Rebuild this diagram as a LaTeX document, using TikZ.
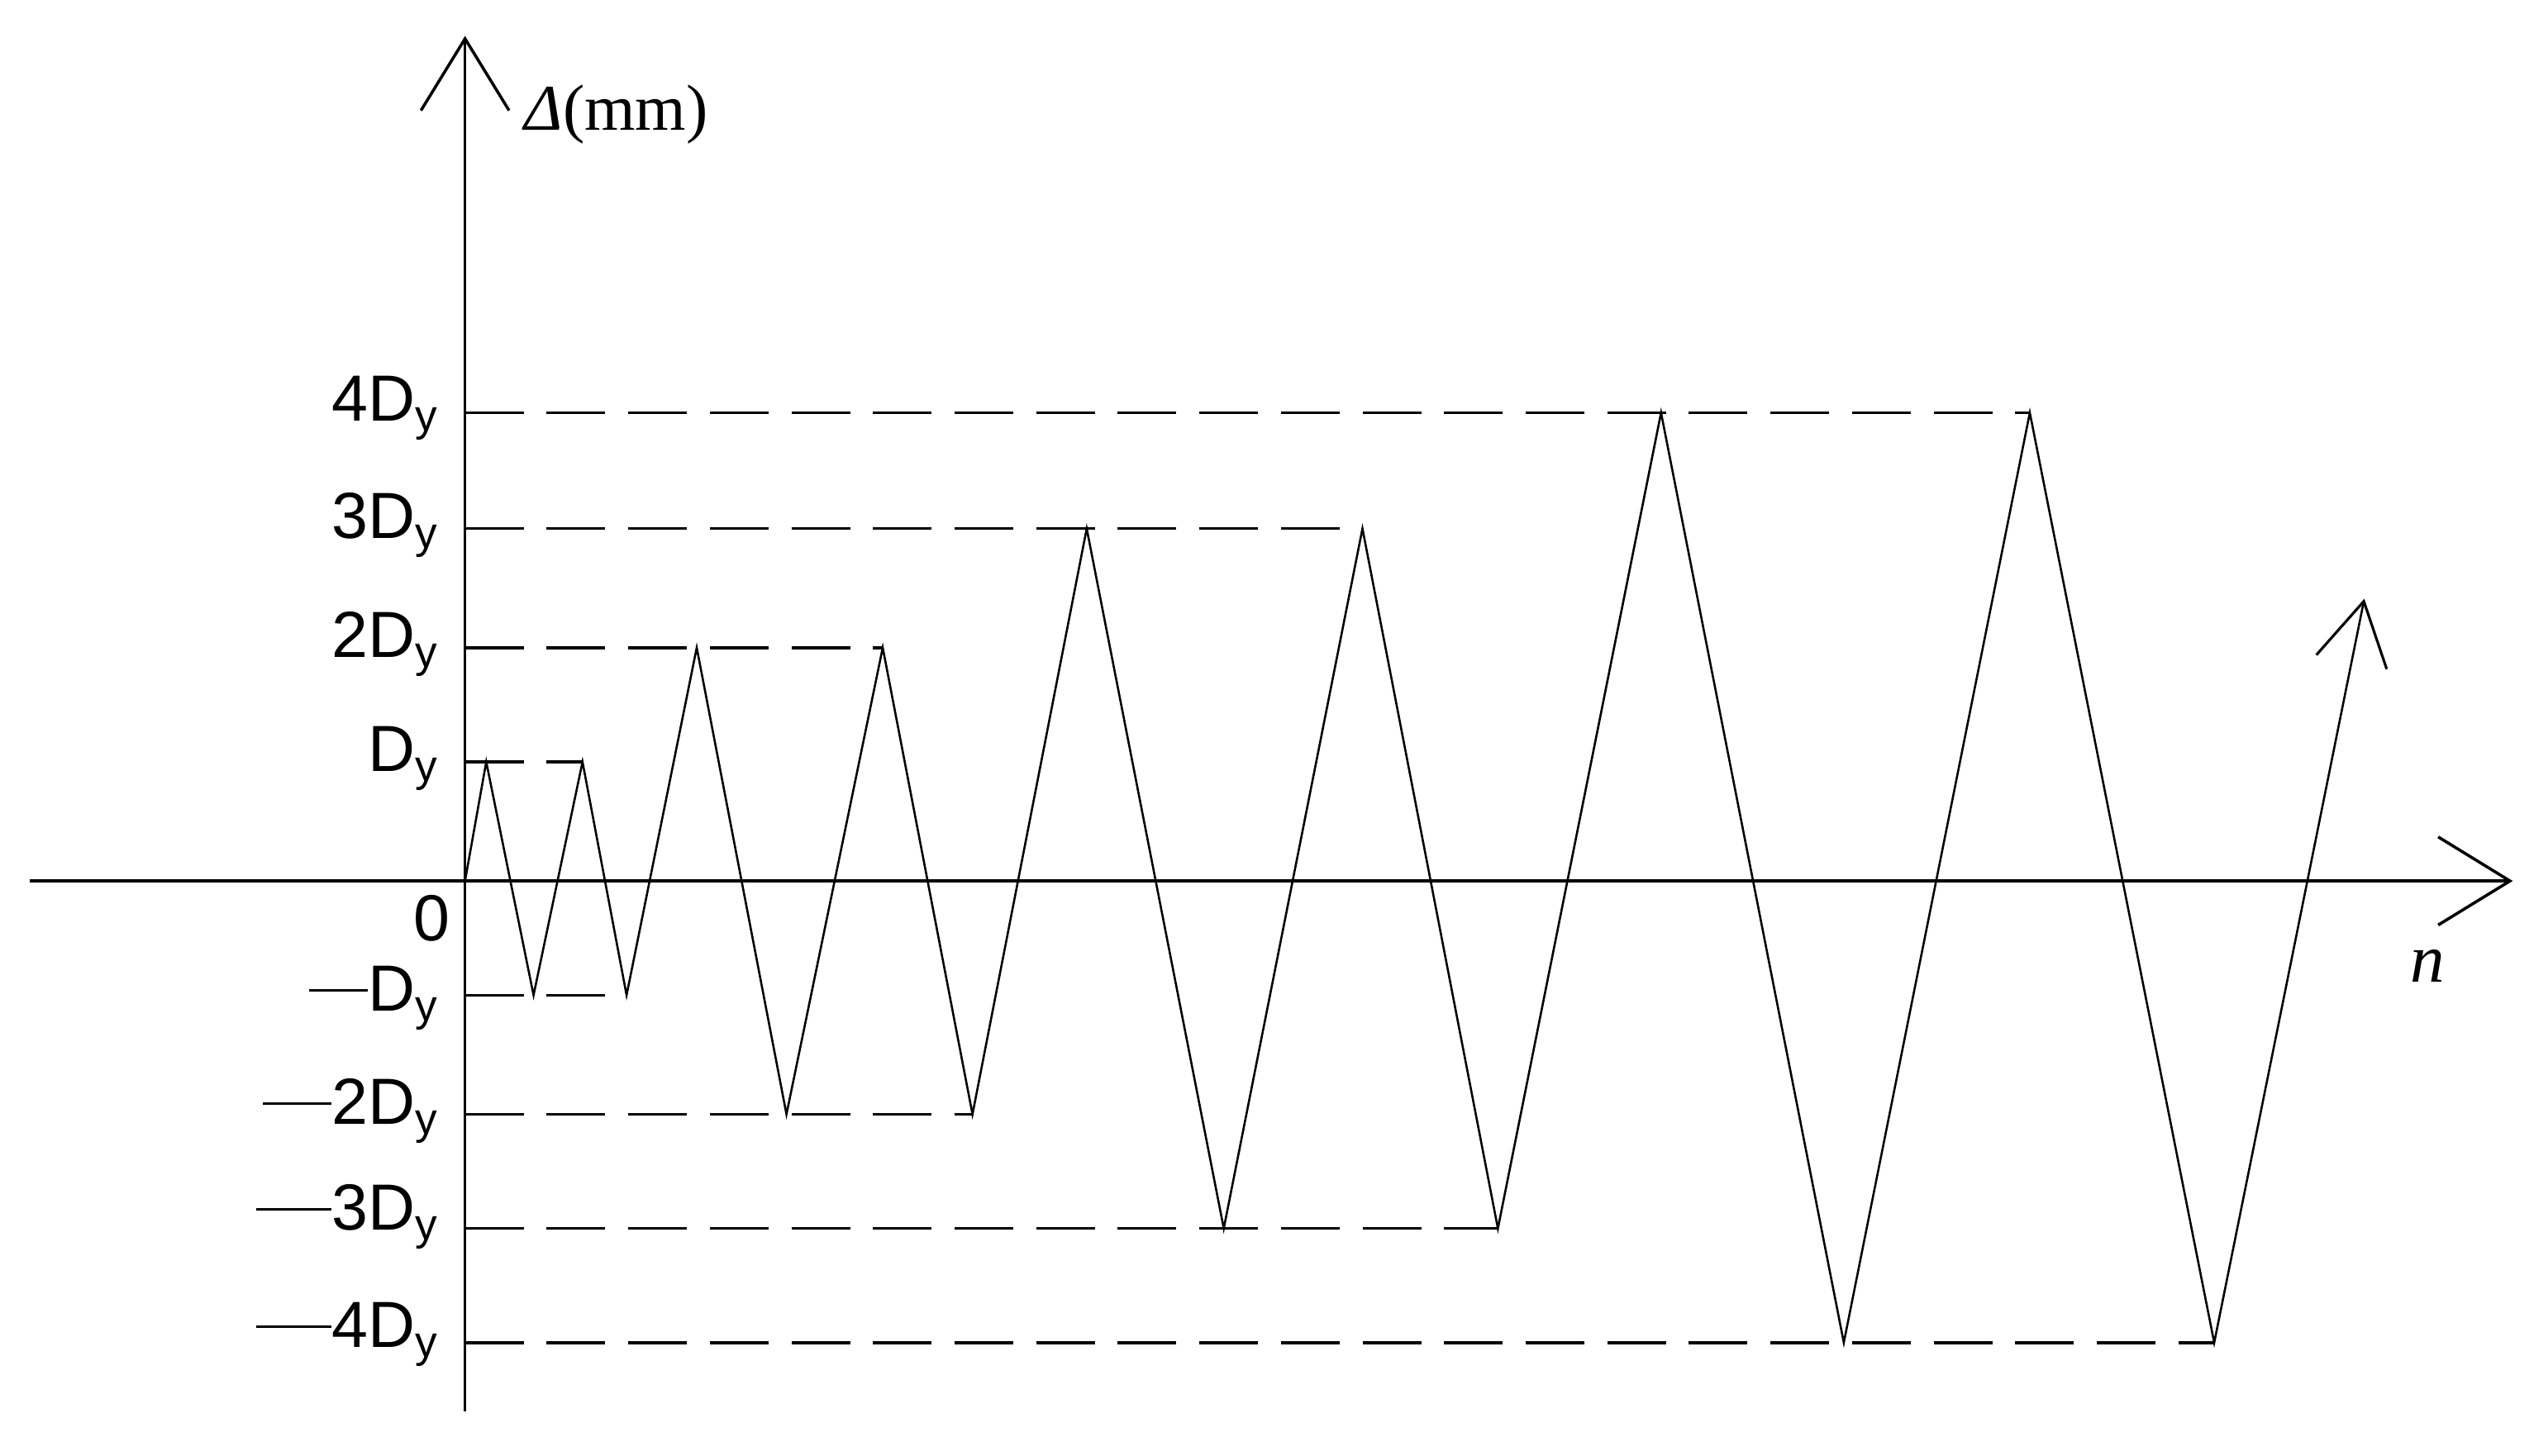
\documentclass[tikz,border=0pt]{standalone}
\usepackage{fontspec}
\setmainfont{Liberation Sans}
\newfontfamily\serf{Liberation Serif}
\usetikzlibrary{arrows.meta}
\tikzset{ax/.style={line width=1.8pt,-{Straight Barb[length=44pt,width=54pt,line width=1.8pt]}},
wave/.style={line width=1.3pt},
lvl/.style={line width=1.8pt,dash pattern=on 36pt off 14pt},
lab/.style={font=\fontsize{40}{42}\selectfont,anchor=east,inner sep=0pt}}
\newcommand{\ysub}{\raisebox{-6pt}{\fontsize{27}{27}\selectfont y}}
\begin{document}
\begin{tikzpicture}[x=1pt,y=-1pt]
\useasboundingbox (0,0) rectangle (1553,892);
\fill[white] (0,0) rectangle (1553,892);
\draw[ax] (285,865) -- (285,22);
\draw[ax] (18,540) -- (1540,540);
\foreach \y/\xe in {467/357,610/384,397/541,683/596,324/835,753/918,253/1244,823/1357}
  \draw[lvl] (285,\y) -- (\xe,\y);
\draw[wave,-{Straight Barb[length=38pt,width=44pt,line width=1.6pt]}] (285,540) -- (298,467) -- (327,610) -- (357,467) -- (384,610) -- (427,397) -- (482,683) -- (541,397) -- (596,683) -- (666,324) -- (750,753) -- (835,324) -- (918,753) -- (1018,253) -- (1130,823) -- (1244,253) -- (1357,823) -- (1449,367);
\node[lab] (l4) at (268,250) {4D\ysub};
\node[lab] (l3) at (268,322) {3D\ysub};
\node[lab] (l2) at (268,395) {2D\ysub};
\node[lab] (l1) at (268,465) {D\ysub};
\node[lab] (l0) at (276,563) {0};
\node[lab] (m1) at (268,612) {\rule[12pt]{36pt}{1.6pt}D\ysub};
\node[lab] (m2) at (268,681) {\rule[12pt]{42pt}{1.6pt}2D\ysub};
\node[lab] (m3) at (268,746) {\rule[12pt]{46pt}{1.6pt}3D\ysub};
\node[lab] (m4) at (268,818) {\rule[12pt]{46pt}{1.6pt}4D\ysub};
\node[font=\serf\fontsize{40}{42}\selectfont,anchor=west] (dl) at (318,70) {\textit{Δ}(mm)};
\node[font=\serf\fontsize{42}{42}\selectfont\itshape] (nl) at (1488,592) {n};
\end{tikzpicture}
\end{document}
